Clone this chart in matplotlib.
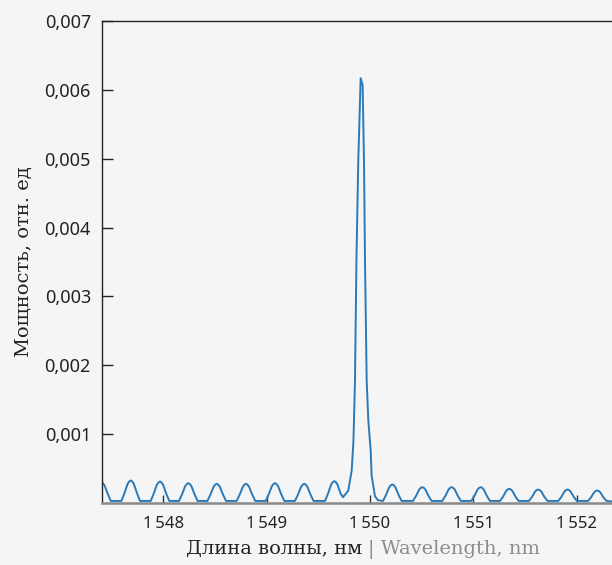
import matplotlib
matplotlib.use("Agg")
import matplotlib.pyplot as plt

# Spectrum: wavelength (nm) and power (rel. units)
wavelength = [
    1547.390, 1547.402, 1547.417, 1547.432, 1547.462, 1547.492,
    1547.595, 1547.625, 1547.655, 1547.670, 1547.685, 1547.700, 1547.715, 1547.745, 1547.775,
    1547.878, 1547.908, 1547.938, 1547.953, 1547.968, 1547.983, 1547.998, 1548.028, 1548.058,
    1548.152, 1548.182, 1548.212, 1548.227, 1548.242, 1548.257, 1548.272, 1548.302, 1548.332,
    1548.427, 1548.457, 1548.487, 1548.502, 1548.517, 1548.532, 1548.547, 1548.577, 1548.607,
    1548.710, 1548.740, 1548.770, 1548.785, 1548.800, 1548.815, 1548.830, 1548.860, 1548.890,
    1548.991, 1549.021, 1549.051, 1549.066, 1549.081, 1549.096, 1549.111, 1549.141, 1549.171,
    1549.274, 1549.304, 1549.334, 1549.349, 1549.364, 1549.379, 1549.394, 1549.424, 1549.454,
    1549.565, 1549.595, 1549.625, 1549.640, 1549.655, 1549.670, 1549.685, 1549.715, 1549.739,
    1549.790, 1549.823, 1549.840, 1549.855, 1549.869, 1549.887, 1549.910,
    1549.929, 1549.942, 1549.952, 1549.968, 1549.984, 1550.007, 1550.016,
    1550.048, 1550.077,
    1550.126, 1550.156, 1550.186, 1550.201, 1550.216, 1550.231, 1550.246, 1550.276, 1550.306,
    1550.416, 1550.446, 1550.476, 1550.491, 1550.506, 1550.521, 1550.536, 1550.566, 1550.596,
    1550.700, 1550.730, 1550.760, 1550.775, 1550.790, 1550.805, 1550.820, 1550.850, 1550.880,
    1550.981, 1551.011, 1551.041, 1551.056, 1551.071, 1551.086, 1551.101, 1551.131, 1551.161,
    1551.258, 1551.288, 1551.318, 1551.333, 1551.348, 1551.363, 1551.378, 1551.408, 1551.438,
    1551.538, 1551.568, 1551.598, 1551.613, 1551.628, 1551.643, 1551.658, 1551.688, 1551.718,
    1551.822, 1551.852, 1551.882, 1551.897, 1551.912, 1551.927, 1551.942, 1551.972, 1552.002,
    1552.109, 1552.139, 1552.169, 1552.184, 1552.199, 1552.214, 1552.229, 1552.259, 1552.289,
    1552.360,
]
power = [
    0.000295, 0.000300, 0.000285, 0.000255, 0.000135, 0.000030,
    0.000030, 0.000145, 0.000278, 0.000312, 0.000327, 0.000312, 0.000278, 0.000145, 0.000030,
    0.000030, 0.000138, 0.000265, 0.000298, 0.000312, 0.000298, 0.000265, 0.000138, 0.000030,
    0.000030, 0.000128, 0.000245, 0.000275, 0.000288, 0.000275, 0.000245, 0.000128, 0.000030,
    0.000030, 0.000124, 0.000237, 0.000266, 0.000279, 0.000266, 0.000237, 0.000124, 0.000030,
    0.000030, 0.000124, 0.000237, 0.000266, 0.000279, 0.000266, 0.000237, 0.000124, 0.000030,
    0.000030, 0.000128, 0.000245, 0.000275, 0.000288, 0.000275, 0.000245, 0.000128, 0.000030,
    0.000030, 0.000124, 0.000237, 0.000266, 0.000279, 0.000266, 0.000237, 0.000124, 0.000030,
    0.000030, 0.000140, 0.000270, 0.000303, 0.000317, 0.000303, 0.000270, 0.000140, 0.000084,
    0.000180, 0.000470, 0.000900, 0.001780, 0.003520, 0.004980, 0.006170,
    0.006070, 0.004980, 0.003520, 0.001780, 0.001200, 0.000760, 0.000400,
    0.000100, 0.000040,
    0.000030, 0.000120, 0.000229, 0.000257, 0.000269, 0.000257, 0.000229, 0.000120, 0.000030,
    0.000030, 0.000103, 0.000196, 0.000220, 0.000230, 0.000220, 0.000196, 0.000103, 0.000030,
    0.000030, 0.000103, 0.000196, 0.000220, 0.000230, 0.000220, 0.000196, 0.000103, 0.000030,
    0.000030, 0.000103, 0.000196, 0.000220, 0.000230, 0.000220, 0.000196, 0.000103, 0.000030,
    0.000030, 0.000093, 0.000175, 0.000197, 0.000206, 0.000197, 0.000175, 0.000093, 0.000030,
    0.000030, 0.000088, 0.000167, 0.000187, 0.000196, 0.000187, 0.000167, 0.000088, 0.000030,
    0.000030, 0.000088, 0.000167, 0.000187, 0.000196, 0.000187, 0.000167, 0.000088, 0.000030,
    0.000030, 0.000082, 0.000155, 0.000174, 0.000182, 0.000174, 0.000155, 0.000082, 0.000030,
    0.000020,
]

x_ticks = [1548, 1549, 1550, 1551, 1552]
x_tick_labels = ["1\u2009548", "1\u2009549", "1\u2009550", "1\u2009551", "1\u2009552"]
y_ticks = [0.001, 0.002, 0.003, 0.004, 0.005, 0.006, 0.007]
y_tick_labels = ["0,001", "0,002", "0,003", "0,004", "0,005", "0,006", "0,007"]

BG = "#f5f5f5"
W, H = 612, 565
fig = plt.figure(figsize=(W / 100, H / 100), dpi=100, facecolor=BG)
ax = fig.add_axes([102 / W, (H - 503) / H, (612 - 102) / W, (503 - 21) / H])
ax.set_facecolor(BG)

ax.plot(wavelength, power, color="#2a7ab9", lw=1.4, solid_joinstyle="round")

ax.set_xlim(1547.407, 1552.342)
ax.set_ylim(0, 0.007)

tick_font = ["Noto Sans", "DejaVu Sans"]
ax.set_xticks(x_ticks)
ax.set_xticklabels(x_tick_labels, fontfamily=tick_font, fontsize=12, color="#222222")
ax.set_yticks(y_ticks)
ax.set_yticklabels(y_tick_labels, fontfamily=tick_font, fontsize=13, color="#222222")
ax.tick_params(axis="x", direction="in", length=6, width=1, color="#333333", pad=9)
ax.tick_params(axis="y", direction="in", length=8, width=1, color="#222222", pad=8)

ax.spines["right"].set_visible(False)
ax.spines["left"].set_color("#222222")
ax.spines["left"].set_linewidth(1.0)
ax.spines["top"].set_color("#222222")
ax.spines["top"].set_linewidth(1.0)
ax.spines["bottom"].set_color("#8a8a8a")
ax.spines["bottom"].set_linewidth(1.8)

serif = ["DejaVu Serif"]
ax.set_ylabel("Мощность, отн. ед", fontfamily=serif, fontsize=14, color="#222222", labelpad=8)

# Two-coloured x label
t1 = fig.text(362 / W, 1 - 554 / H, "Длина волны, нм", fontfamily=serif, fontsize=14,
              color="#222222", ha="right", va="baseline")
t2 = fig.text(368 / W, 1 - 554 / H, "| Wavelength, nm", fontfamily=serif, fontsize=14,
              color="#8c8c8c", ha="left", va="baseline")

fig.savefig("out.png", dpi=100, facecolor=BG)
